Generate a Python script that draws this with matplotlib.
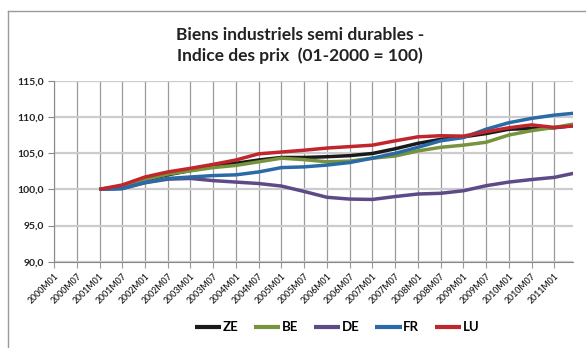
import numpy as np
import matplotlib.pyplot as plt
from matplotlib.lines import Line2D

# Month index: 0 = 2000M01
months = [12, 18, 24, 30, 36, 42, 48, 54, 60, 66, 72, 78, 84,
          90, 96, 102, 108, 114, 120, 126, 132, 137]

ze = [100.0, 100.45, 101.3, 102.0, 102.6, 103.2, 103.6, 104.05, 104.4, 104.4, 104.5,
      104.65, 104.95, 105.6, 106.35, 106.9, 107.25, 107.7, 108.3, 108.4, 108.5, 108.8]
be = [100.0, 100.4, 101.35, 102.1, 102.55, 103.0, 103.3, 103.8, 104.3, 104.1, 103.8,
      103.9, 104.3, 104.6, 105.3, 105.8, 106.1, 106.5, 107.5, 108.1, 108.55, 109.0]
de = [100.0, 100.1, 100.9, 101.4, 101.5, 101.2, 101.0, 100.8, 100.45, 99.7, 98.9,
      98.65, 98.6, 99.0, 99.35, 99.45, 99.8, 100.5, 101.0, 101.35, 101.65, 102.2]
fr = [100.0, 100.1, 100.95, 101.5, 101.7, 101.9, 102.0, 102.4, 103.0, 103.1, 103.35,
      103.7, 104.3, 104.97, 105.8, 106.7, 107.15, 108.3, 109.2, 109.8, 110.25, 110.5]
lu = [100.0, 100.6, 101.7, 102.4, 102.9, 103.45, 104.05, 104.9, 105.15, 105.4, 105.7,
      105.9, 106.1, 106.7, 107.25, 107.4, 107.35, 107.95, 108.5, 108.9, 108.55, 108.75]

series = [("ZE", ze, "#1a1a1a"), ("BE", be, "#77933C"), ("DE", de, "#5E4A86"),
          ("FR", fr, "#2A6AA6"), ("LU", lu, "#C0262C")]

tick_months = list(range(0, 133, 6))
tick_labels = [f"{2000 + m // 12}M{m % 12 + 1:02d}" for m in tick_months]

plt.rcParams["font.family"] = ["Lato", "DejaVu Sans"]

fig = plt.figure(figsize=(5.86, 3.48), dpi=100)
ax = fig.add_axes([0.0922, 0.248, 0.8861, 0.520])

for name, vals, col in series:
    ax.plot(months, vals, color=col, lw=2.5, label=name,
            solid_joinstyle="round", solid_capstyle="butt")

ax.set_xlim(0, 137)
ax.set_ylim(90, 115)
ax.set_yticks(np.arange(90, 115.1, 5))
ax.set_yticklabels([f"{v:.1f}".replace(".", ",") for v in np.arange(90, 115.1, 5)],
                   fontsize=7.5, fontweight="bold", color="#222222")
ax.set_xticks(tick_months)
ax.set_xticklabels(tick_labels, rotation=45, ha="right", rotation_mode="anchor",
                   fontsize=6.3, fontweight="semibold", color="#222222")

ax.grid(axis="x", color="#9a9a9a", lw=0.9)
ax.grid(axis="y", color="#cccccc", lw=1.6)
ax.set_axisbelow(True)
for s in ["top", "right"]:
    ax.spines[s].set_visible(False)
ax.spines["left"].set_color("#888888")
ax.spines["bottom"].set_color("#888888")
ax.tick_params(axis="x", length=4, color="#9a9a9a", pad=3)
ax.tick_params(axis="y", length=4, color="#888888", pad=3)

fig.text(0.512, 0.87, "Biens industriels semi durables -\nIndice des prix  (01-2000 = 100)",
         ha="center", va="center", fontsize=12.5, fontweight="bold", color="#222222",
         linespacing=1.3)

# chart frame
fig.add_artist(Line2D([8 / 586, 8 / 586], [0, 1 - 11 / 348], color="#999999", lw=1))
fig.add_artist(Line2D([8 / 586, 1], [1 - 11 / 348, 1 - 11 / 348], color="#999999", lw=1))

leg = fig.legend(loc="center", bbox_to_anchor=(0.575, 0.06), ncol=5, frameon=False,
                 handlelength=2.0, handletextpad=0.1, columnspacing=1.2,
                 prop={"weight": "bold", "size": 9.5})
for h in leg.get_lines():
    h.set_linewidth(3)

fig.savefig("out.png", dpi=100)
